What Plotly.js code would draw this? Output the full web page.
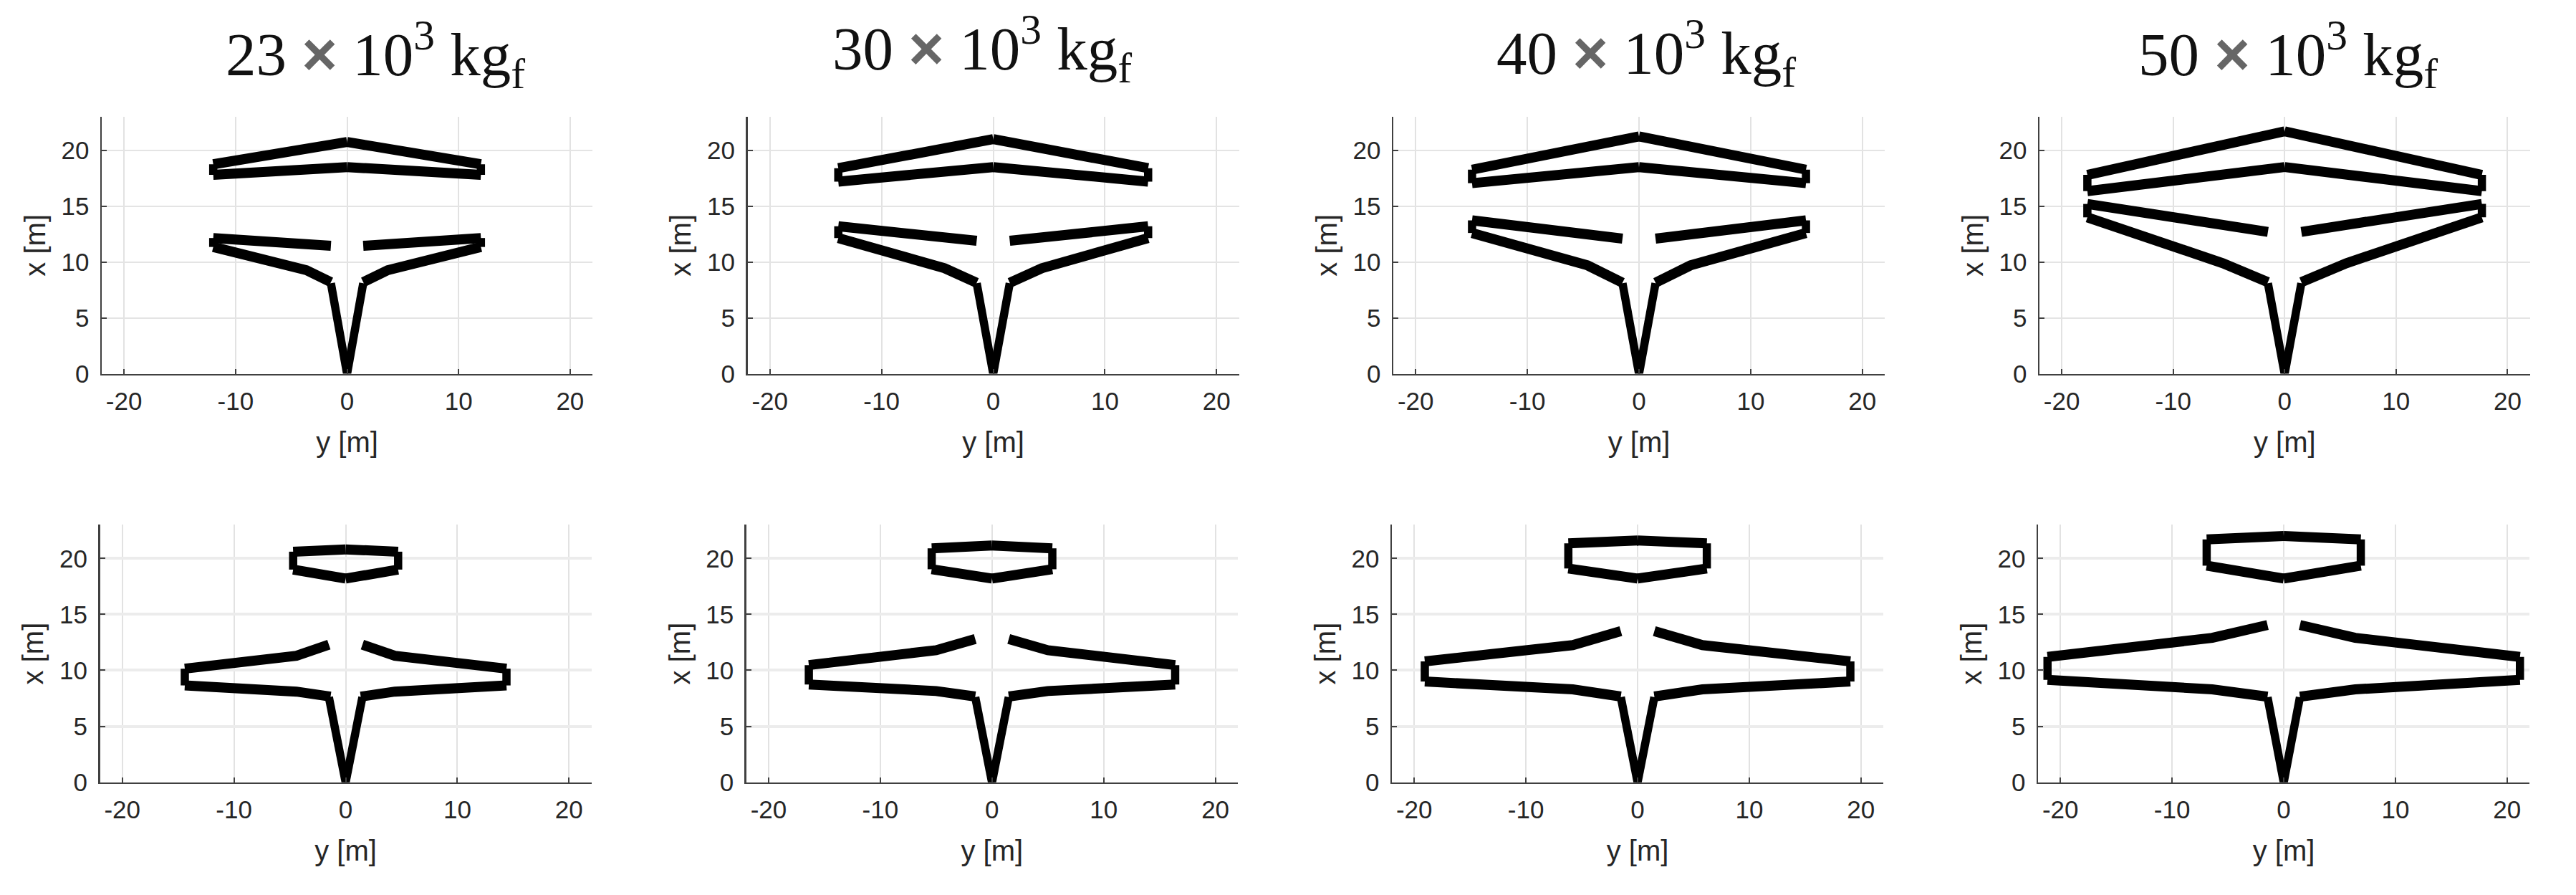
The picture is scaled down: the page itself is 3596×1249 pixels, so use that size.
<!DOCTYPE html>
<html><head><meta charset="utf-8">
<script src="https://cdn.plot.ly/plotly-3.0.1.min.js"></script>
<style>html,body{margin:0;padding:0;background:#fff}</style></head>
<body><div id="chart" style="width:3596px;height:1249px"></div>
<script>
// Half-planform outlines: span position (y [m]) and station (x [m]).
// Each null ends one drawn stroke. The other half is the mirror image.
const span23A = [0,1.45,null,1.45,3.65,12,null,12,12,null,12,1.45,null,0,12,null,12,12,null,12,0];
const stn23A  = [0,8.1,null,8.2,9.27,11.35,null,11.35,12.15,null,12.15,11.45,null,18.5,17.8,null,17.8,18.75,null,18.75,20.75];
const span30A = [0,1.48,null,1.48,4.35,13.87,null,13.87,13.87,null,13.87,1.48,null,0,13.87,null,13.87,13.87,null,13.87,0];
const stn30A  = [0,8.1,null,8.15,9.45,12.15,null,12.15,13.2,null,13.2,11.9,null,18.5,17.2,null,17.2,18.4,null,18.4,21.0];
const span40A = [0,1.48,null,1.48,4.6,14.95,null,14.95,14.95,null,14.95,1.48,null,0,14.95,null,14.95,14.95,null,14.95,0];
const stn40A  = [0,8.1,null,8.15,9.7,12.6,null,12.6,13.73,null,13.73,12.1,null,18.5,17.06,null,17.06,18.27,null,18.27,21.25];
const span50A = [0,1.5,null,1.5,5.55,17.7,null,17.7,17.7,null,17.7,1.5,null,0,17.7,null,17.7,17.7,null,17.7,0];
const stn50A  = [0,8.1,null,8.2,9.9,14.0,null,14.0,15.2,null,15.2,12.7,null,18.5,16.35,null,16.35,17.8,null,17.8,21.7];

const span23B = [0,1.5,null,1.35,4.4,14.4,null,14.4,14.4,null,14.4,4.4,1.5,null,0,4.7,null,4.7,4.7,null,4.7,0];
const stn23B  = [0,7.6,null,7.65,8.1,8.65,null,8.65,10.15,null,10.15,11.3,12.3,null,18.2,19.0,null,19.0,20.6,null,20.6,20.8];
const span30B = [0,1.5,null,1.5,5.0,16.4,null,16.4,16.4,null,16.4,5.0,1.5,null,0,5.4,null,5.4,5.4,null,5.4,0];
const stn30B  = [0,7.6,null,7.66,8.15,8.73,null,8.73,10.47,null,10.47,11.8,12.8,null,18.2,19.03,null,19.03,20.9,null,20.9,21.15];
const span40B = [0,1.5,null,1.5,5.8,19.05,null,19.05,19.05,null,19.05,5.8,1.5,null,0,6.2,null,6.2,6.2,null,6.2,0];
const stn40B  = [0,7.6,null,7.66,8.3,9.0,null,9.0,10.8,null,10.8,12.25,13.5,null,18.2,19.1,null,19.1,21.35,null,21.35,21.6];
const span50B = [0,1.45,null,1.45,6.4,21.15,null,21.15,21.15,null,21.15,6.4,1.45,null,0,6.9,null,6.9,6.9,null,6.9,0];
const stn50B  = [0,7.6,null,7.65,8.3,9.15,null,9.15,11.2,null,11.2,12.9,14.05,null,18.2,19.35,null,19.35,21.7,null,21.7,22.0];

const topSpans = [span23A,span30A,span40A,span50A];
const topStns  = [stn23A,stn30A,stn40A,stn50A];
const botSpans = [span23B,span30B,span40B,span50B];
const botStns  = [stn23B,stn30B,stn40B,stn50B];

const tickVals = [-20,-10,0,10,20];
const stationTicks = [0,5,10,15,20];
const panelTitles = ['23','30','40','50'];

// layout (pixels in the page)
const W=3596,H=1249;
const topCols=[[142,827],[1043.5,1729.5],[1945,2631],[2847,3531.5]];
const botCols=[[139.5,825.5],[1041.8,1727.8],[1943,2629],[2845,3531]];
const topRow=[163,521.6], botRow=[732.4,1091.7];
const titleLeft=[313,1160,2087,2983], titleMid=[76,68,74,76];

const TXT='#262626';
const traces=[];
const layout={width:W,height:H,margin:{l:0,r:0,t:0,b:0},paper_bgcolor:'#fff',plot_bgcolor:'#fff',showlegend:false,annotations:[]};

// Steep strokes (fuselage, tips) and shallow strokes (wings, tails) have different weights in the picture.
function addPanel(idx,span,stn,col,row,gridH){
  const id=idx===0?'':String(idx+1);
  const steep={x:[],y:[]},shallow={x:[],y:[]};
  let cur={x:[],y:[]};
  const flush=()=>{
    if(cur.x.length<2){cur={x:[],y:[]};return;}
    const first=Math.abs(cur.y[1]-cur.y[0])>Math.abs(cur.x[1]-cur.x[0]);
    const bin=first?steep:shallow;
    for(const s of [1,-1]){
      cur.x.forEach((v,i)=>{bin.x.push(s*v);bin.y.push(cur.y[i]);});
      bin.x.push(null);bin.y.push(null);
    }
    cur={x:[],y:[]};
  };
  span.forEach((v,i)=>{ if(v===null) flush(); else {cur.x.push(v);cur.y.push(stn[i]);} });
  flush();
  [[shallow,14],[steep,11.5]].forEach(([b,w])=>traces.push({type:'scatter',mode:'lines',x:b.x,y:b.y,xaxis:'x'+id,yaxis:'y'+id,connectgaps:false,
    line:{color:'#000',width:w,simplify:false},hoverinfo:'skip'}));
  const common={showline:true,linecolor:'#404040',linewidth:2.5,zeroline:false,showgrid:true,
    ticks:'inside',ticklen:7,tickwidth:2,tickcolor:'#404040',automargin:false,fixedrange:true,
    tickfont:{family:'Liberation Sans',size:35,color:TXT}};
  layout['xaxis'+id]=Object.assign({},common,{domain:[col[0]/W,col[1]/W],range:[-22,22],anchor:'y'+id,
    tickmode:'array',tickvals:tickVals,ticktext:tickVals.map(String),gridcolor:'#e2e2e2',gridwidth:2,ticklabelstandoff:6,
    title:{text:'y [m]',font:{family:'Liberation Sans',size:40,color:TXT},standoff:25}});
  layout['yaxis'+id]=Object.assign({},common,{domain:[1-row[1]/H,1-row[0]/H],range:[0,23],anchor:'x'+id,
    tickmode:'array',tickvals:stationTicks,ticktext:stationTicks.map(String),gridcolor:gridH.c,gridwidth:gridH.w,ticklabelstandoff:8,
    title:{text:'x [m]',font:{family:'Liberation Sans',size:40,color:TXT},standoff:10}});
}
for(let i=0;i<4;i++){
  addPanel(i,topSpans[i],topStns[i],topCols[i],topRow,{c:'#e4e4e4',w:2});
  addPanel(i+4,botSpans[i],botStns[i],botCols[i],botRow,{c:'#ececec',w:4});
  layout.annotations.push({xref:'paper',yref:'paper',xanchor:'left',yanchor:'middle',
    x:titleLeft[i]/W,y:1-titleMid[i]/H,showarrow:false,align:'left',
    text:panelTitles[i]+' <span style="color:#666;font-family:\'Liberation Sans\';font-weight:bold">×</span> 10<sup>3</sup> kg<sub>f</sub>',
    font:{family:'Liberation Serif',size:85,color:'#111'}});
}
Plotly.newPlot('chart',traces,layout,{displayModeBar:false,staticPlot:true});
</script></body></html>
